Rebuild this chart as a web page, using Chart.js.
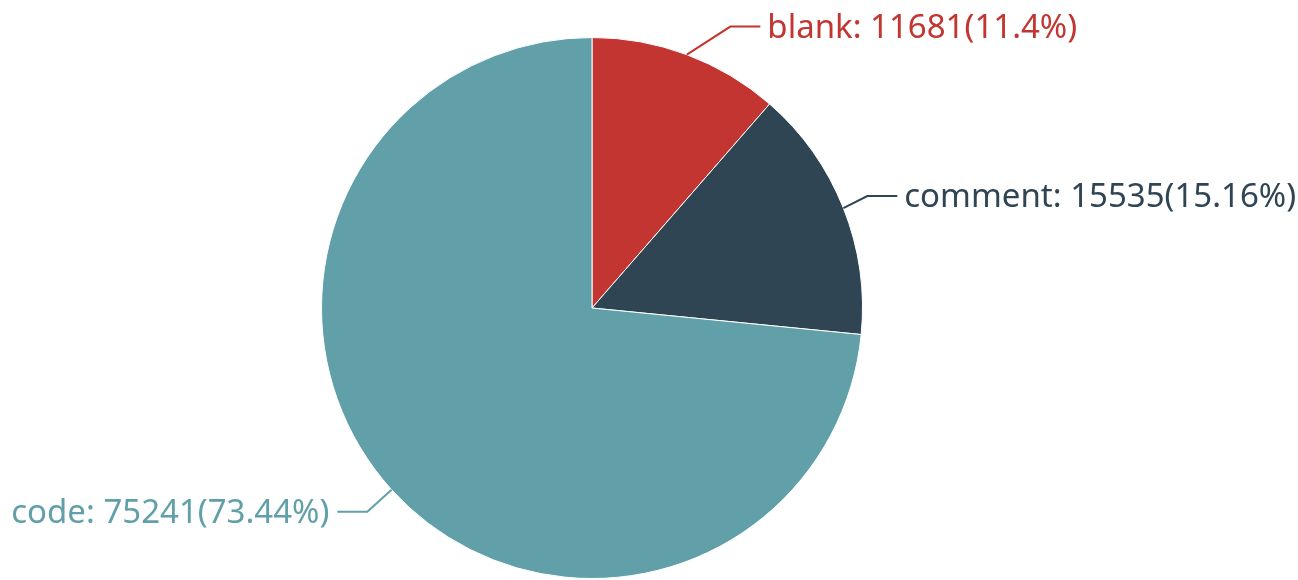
<!DOCTYPE html>
<html>
<head>
<meta charset="utf-8">
<script src="https://cdn.jsdelivr.net/npm/chart.js"></script>
<style>
  html, body { margin: 0; padding: 0; background: #fff; }
  #wrap { width: 1298px; height: 580px; }
</style>
</head>
<body>
<div id="wrap"><canvas id="pieChart" width="1298" height="580"></canvas></div>
<script>
// dados do gráfico
const categorias = ['blank', 'comment', 'code'];
const valores = [11681, 15535, 75241];
const percentuais = ['11.4', '15.16', '73.44'];
const cores = ['#c23531', '#2f4554', '#61a0a8'];

// desvio do cotovelo da linha de rótulo (px)
const desvioCotoveloX = [33, -4, -2];
const desvioCotoveloY = [0, -1, 2];

const rotulosPlugin = {
    id: 'rotulos',
    afterDatasetsDraw(chart) {
        const ctx = chart.ctx;
        const meta = chart.getDatasetMeta(0);
        ctx.save();
        ctx.font = '33px "Noto Sans", "Open Sans", sans-serif';
        ctx.textBaseline = 'middle';
        ctx.lineWidth = 2;
        meta.data.forEach((arc, i) => {
            const p = arc.getProps(['x', 'y', 'startAngle', 'endAngle', 'outerRadius'], true);
            const meio = (p.startAngle + p.endAngle) / 2;
            const cos = Math.cos(meio), sin = Math.sin(meio);
            const x0 = p.x + cos * p.outerRadius;
            const y0 = p.y + sin * p.outerRadius;
            const direita = cos >= 0;
            const x1 = p.x + cos * (p.outerRadius + 30) + desvioCotoveloX[i];
            const y1 = p.y + sin * (p.outerRadius + 30) + desvioCotoveloY[i];
            const x2 = x1 + (direita ? 30 : -30);
            ctx.strokeStyle = cores[i];
            ctx.beginPath();
            ctx.moveTo(x0, y0);
            ctx.lineTo(x1, y1);
            ctx.lineTo(x2, y1);
            ctx.stroke();
            const texto = categorias[i] + ': ' + valores[i] + '(' + percentuais[i] + '%)';
            ctx.fillStyle = cores[i];
            ctx.textAlign = direita ? 'left' : 'right';
            ctx.fillText(texto, x2 + (direita ? 7 : -8), y1 + 2);
        });
        ctx.restore();
    }
};

new Chart(document.getElementById('pieChart').getContext('2d'), {
    type: 'pie',
    data: {
        labels: categorias,
        datasets: [{
            data: valores,
            backgroundColor: cores,
            borderColor: '#ffffff',
            borderWidth: 1
        }]
    },
    options: {
        responsive: false,
        animation: false,
        layout: { padding: { top: 37, bottom: 1, left: 0, right: 114 } },
        plugins: {
            legend: { display: false },
            tooltip: { enabled: false }
        }
    },
    plugins: [rotulosPlugin]
});
</script>
</body>
</html>
